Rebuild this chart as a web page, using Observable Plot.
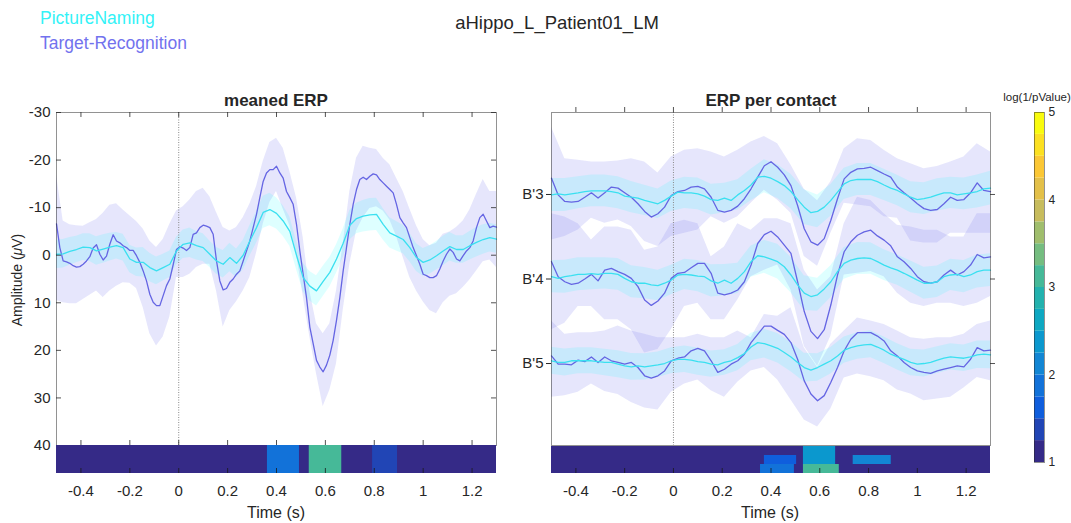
<!DOCTYPE html>
<html><head><meta charset="utf-8">
<script src="https://cdn.jsdelivr.net/npm/d3@7"></script>
<script src="https://cdn.jsdelivr.net/npm/@observablehq/plot@0.6"></script>
<style>
body{margin:0;background:#fff;}
#root{position:relative;width:1071px;height:523px;overflow:hidden;background:#fff;font-family:"Liberation Sans",Arial,Helvetica,sans-serif;color:#262626;}
.abs{position:absolute;}
.txt{position:absolute;white-space:nowrap;line-height:1;}
</style></head><body><div id="root"></div>
<script>
// ---------------- DATA ----------------
const timeDomain = [-0.5, 1.3];
const timeTicks = [-0.4, -0.2, 0, 0.2, 0.4, 0.6, 0.8, 1, 1.2];
const ampTicks = [-30, -20, -10, 0, 10, 20, 30, 40];
const seriesNames = ["PictureNaming", "Target-Recognition"];

// meaned ERP, Target-Recognition mean (133 samples over -0.5..1.3 s)
const trAmp = [-6.6,-1.6,1.2,1.4,1.7,2.2,2.5,2.4,1.9,1.2,0.3,-1.5,-2.2,-0.2,1.0,0.2,-2.3,-4.3,-3.0,-2.6,
-2.0,-1.6,-1.0,-1.0,0.1,1.5,3.3,5.4,8.2,9.9,10.6,10.6,8.5,6.4,5.0,2.0,-1.2,-1.8,-1.5,-1.0,
-1.6,-4.4,-4.7,-5.8,-6.3,-6.1,-5.8,-4.4,1.2,5.4,7.3,7.0,5.7,5.0,4.0,3.3,1.2,-0.9,-3.0,-5.8,
-8.6,-12.1,-15.5,-17.3,-18.0,-18.0,-18.7,-17.3,-16.2,-13.4,-12.1,-10.7,-6.5,-0.9,4.0,8.9,15.1,18.6,22.1,23.5,
24.5,23.1,21.0,17.9,13.7,8.9,3.3,-1.6,-6.5,-10.7,-13.8,-15.9,-16.4,-15.9,-16.6,-17.1,-16.9,-15.9,-15.2,-14.5,
-13.8,-13.1,-10.7,-7.9,-6.8,-5.8,-3.7,-1.6,0.1,1.9,4.0,4.3,4.7,4.7,4.3,2.9,1.2,-0.2,-1.3,-0.6,
0.8,1.2,0.1,-0.9,-1.6,-3.0,-5.8,-7.9,-8.6,-7.2,-5.8,-6.1,-5.9];
// Target-Recognition band edges (67 samples)
const trHi = [-16.9,-7.2,-6.4,-6.2,-6.1,-6.8,-7.5,-8.8,-10.5,-10.8,
-9.5,-8.3,-7.1,-5.5,-3.0,-1.6,-3.3,-6.5,-9.3,-10.2,
-11.6,-13.4,-14.1,-12.3,-9.0,-5.8,-5.1,-5.8,-7.9,-10.7,
-14.4,-19.7,-23.7,-24.6,-22.5,-17.6,-12.1,-3.7,7.5,14.4,
16.5,14.4,7.5,-2.3,-13.4,-20.4,-22.9,-22.5,-22.2,-20.4,
-19.0,-16.2,-13.4,-9.7,-6.2,-3.3,-2.0,-2.5,-4.4,-4.9,
-5.8,-7.2,-9.5,-12.8,-15.9,-13.4,-13.4];
const trLo = [9.5,10.0,10.2,10.2,9.3,8.4,7.5,8.9,7.5,6.5,
5.8,5.9,7.0,11.0,16.5,19.1,17.2,13.0,4.7,4.7,
4.0,2.6,1.9,1.9,7.5,15.1,11.6,9.8,7.5,4.7,
-0.4,-6.5,-11.1,-13.4,-9.7,-6.2,-0.2,8.5,17.2,24.9,
31.8,28.4,22.8,11.6,1.9,-5.1,-7.9,-9.8,-10.2,-9.3,
-7.4,-4.0,0.5,4.7,7.5,9.8,11.6,12.3,10.0,8.6,
8.1,6.8,5.2,3.3,1.4,1.0,2.6];
// PictureNaming mean and s.e.m. (67 samples)
const pnAmp = [-0.2,-0.3,-0.8,-1.2,-1.7,-1.6,-0.9,-1.3,-1.7,-2.0,
-1.6,0.8,1.5,1.5,2.6,3.3,2.6,1.9,-0.9,-2.3,
-2.6,-2.0,-1.6,-0.2,1.2,1.9,0.5,1.7,0,-3.0,
-5.8,-9.0,-9.6,-8.8,-7.2,-5.0,0,4.7,6.5,7.5,
5.5,3.6,0.8,-2.5,-6.3,-7.7,-8.2,-8.5,-8.6,-6.5,
-4.7,-4.0,-3.3,-1.6,0.5,1.5,1.0,0.1,-0.9,-1.8,
-1.2,-1.2,-2.0,-2.7,-3.3,-3.7,-3.4];
const pnSem = [3.0,3.0,2.9,2.8,2.8,2.9,3.0,3.0,2.9,2.8,
2.8,2.9,3.0,3.1,3.0,2.9,2.8,2.8,2.9,3.0,
3.1,3.0,2.9,2.8,2.8,2.9,3.0,3.0,3.1,3.2,
3.3,3.4,3.4,3.3,3.2,3.1,3.0,3.0,3.1,3.2,
3.2,3.1,3.0,3.0,3.1,3.2,3.3,3.4,3.4,3.3,
3.2,3.1,3.0,3.0,2.9,2.9,3.0,3.0,3.1,3.0,
2.9,2.9,3.0,3.1,3.1,3.0,3.0];

// ERP per contact
const contacts = ["B'3", "B'4", "B'5"];
const contactOffsets = [40, 80, 120];
const contactDomain = [1.2, 158.8];
// means (67 samples each)
const trContact = [
 [-7.7,0.2,3.3,3.6,3.3,1.3,-0.8,1.7,-0.8,-3.5,-3.0,-0.8,1.3,4.4,8.0,10.7,9.1,6.0,0.5,-1.4,
  -1.9,-3.5,-3.8,-2.7,1.3,7.5,8.3,7.5,5.5,2.0,-2.7,-8.2,-13.6,-15.5,-12.9,-9.3,-4.2,5.2,16.2,22.4,
  24.0,20.9,12.2,2.0,-7.4,-10.5,-12.1,-12.4,-12.9,-11.3,-9.7,-8.2,-3.5,-0.8,1.7,4.4,6.7,7.5,7.1,4.4,
  1.3,2.8,2.4,-0.8,-5.5,-1.9,-1.4],
 [-8.2,-1.1,1.3,2.5,2.0,0,-2.2,0.9,-4.2,-5.0,-3.5,-2.2,-0.3,3.6,9.9,12.5,10.4,6.7,-0.3,-2.7,
  -3.1,-5.3,-7.4,-7.4,-2.7,6.7,7.5,6.7,5.2,1.3,-6.6,-16.8,-21.0,-22.6,-19.9,-16.0,-12.1,1.3,15.4,24.8,
  28.2,24.0,12.2,-1.9,-12.9,-17.6,-20.7,-22.3,-23.1,-20.4,-18.4,-15.7,-10.5,-8.2,-5.0,-1.1,1.3,2.0,1.3,-1.9,
  -4.2,-1.9,-3.5,-6.6,-11.6,-10.0,-10.5],
 [-3.6,0.3,0.3,0.6,-1.6,-0.9,-3.1,-0.5,-3.1,-1.3,-0.5,0.3,-0.5,1.9,5.8,6.9,5.8,3.5,-1.3,-2.5,
  -3.1,-6.0,-7.2,-6.0,-1.3,4.2,2.7,0.3,-1.3,-4.4,-9.9,-13.8,-17.7,-17.7,-15.7,-13.8,-9.9,-2.0,8.2,14.4,
  17.6,15.2,8.9,1.9,-6.0,-11.5,-14.6,-14.6,-14.6,-13.0,-10.7,-6.0,-3.6,-0.5,1.9,3.5,4.2,4.7,3.5,2.7,
  1.9,1.1,1.6,-2.0,-7.5,-6.0,-6.3]
];
const pnContact = [
 [0.2,-0.3,0.2,-0.3,-0.8,-1.4,-1.7,-1.7,-1.7,-1.4,-0.8,0.8,1.3,1.7,2.8,3.6,4.4,2.8,0.8,-1.1,
  -0.8,-0.8,-0.3,0.8,2.4,2.8,1.7,2.8,0.2,-1.9,-4.5,-8.2,-8.6,-7.7,-6.1,-4.2,-1.4,2.4,6.0,8.6,
  8.0,6.0,2.8,-1.1,-5.0,-6.6,-7.1,-7.1,-7.1,-6.1,-4.5,-3.0,-1.9,-0.3,1.3,2.4,2.0,1.3,0.2,-0.8,
  -0.8,0.2,-0.3,-0.8,-1.4,-2.7,-3.0],
 [-1.1,-0.3,-1.1,-1.6,-2.2,-2.2,-2.5,-2.2,-2.7,-2.7,-2.2,-0.3,1.3,2.0,2.0,2.8,3.1,2.0,0.5,-1.9,
  -2.2,-1.9,-1.4,-1.1,0.9,2.0,0.5,2.0,-0.3,-3.5,-8.2,-11.0,-10.5,-9.4,-8.2,-5.8,-1.9,2.8,6.7,8.3,
  7.5,4.7,1.3,-3.5,-7.4,-8.9,-9.7,-10.0,-9.7,-8.2,-6.6,-5.3,-4.2,-2.7,-1.1,0.5,2.0,2.0,1.3,-1.1,
  -1.9,-2.2,-1.1,-1.9,-3.5,-4.2,-4.2],
 [-1.3,-0.5,-0.5,-1.3,-1.3,-1.3,-1.3,-0.9,-0.5,-0.5,0.3,1.1,1.6,1.1,1.6,1.1,0.6,0,-1.3,-2.0,
  -2.0,-1.6,-0.9,-0.5,0.3,0.6,-0.5,-1.3,-2.8,-4.7,-7.8,-9.9,-9.4,-8.3,-7.2,-5.2,-3.1,-0.5,1.9,3.1,
  1.9,0.3,-1.3,-3.6,-6.3,-7.5,-8.3,-8.8,-9.1,-7.8,-6.3,-4.4,-3.1,-2.0,-0.5,0.3,0,-0.5,-1.6,-2.5,
  -3.1,-2.8,-2.5,-3.1,-4.1,-4.4,-4.1]
];
// Target-Recognition band edges per contact (34 samples)
const trContactHi = [
 [-31.8,-16.9,-16.2,-15.4,-15.4,-15.8,-16.9,-15.4,-10.2,-17.7,-20.9,-21.6,-20.1,-17.7,-20.9,-24.8,-27.5,-24.0,-14.0,-2.5,3.0,-6.0,-21.6,-26.4,-25.6,-20.9,-16.9,-14.6,-12.2,-13.3,-15.4,-17.7,-24.0,-20.1],
 [-30.9,-29.3,-26.2,-18.4,-24.6,-24.6,-23.1,-13.6,-15.2,-26.2,-27.8,-26.2,-10.5,-15.2,-26.2,-23.1,-28.5,-28.5,-26.2,-4.2,5.2,-1.1,-26.2,-38.7,-37.2,-30.9,-25.4,-24.6,-23.1,-23.1,-19.9,-19.9,-30.9,-30.9],
 [-20.1,-13.8,-14.6,-14.6,-15.4,-17.7,-15.4,-13.8,-12.2,-12.2,-12.2,-13.8,-12.2,-12.2,-15.4,-12.2,-23.2,-22.4,-26.4,-7.5,1.9,-9.1,-15.4,-21.6,-20.1,-18.5,-15.4,-12.2,-11.5,-12.2,-12.2,-13.8,-18.5,-20.1]
];
const trContactLo = [
 [21.5,19.9,16.8,11.3,13.6,12.1,15.2,22.3,24.6,19.9,18.4,16.8,10.5,13.6,10.5,4.2,-2.0,2.7,8.9,29.3,34.0,18.4,4.2,5.0,5.8,10.5,11.3,22.0,23.0,23.0,18.4,18.4,18.4,18.4],
 [24.0,20.9,13.0,13.0,19.3,19.3,24.0,35.0,33.4,24.0,13.0,11.5,19.3,19.3,9.9,-1.1,-4.2,-6.6,5.2,31.8,41.3,27.1,-1.9,-2.7,-3.5,-1.1,6.7,11.5,13.0,11.5,11.5,13.0,11.5,8.3],
 [16.0,15.2,13.6,9.7,13.2,14.7,18.4,21.0,22.0,13.6,9.7,7.8,12.9,16.0,8.9,3.5,1.9,7.8,17.3,26.7,30.1,21.5,6.9,5.0,6.3,8.2,12.5,14.4,17.6,16.8,16.0,11.6,6.6,8.2]
];
// PictureNaming s.e.m. per contact (34 samples)
const pnContactSem = [
 [7.8,7.8,7.6,7.5,7.5,7.6,7.4,7.2,7.0,7.2,7.4,7.5,7.3,7.0,7.2,7.5,7.8,8.0,8.2,8.2,7.8,7.5,7.4,7.6,7.6,7.4,7.2,7.3,7.5,7.6,7.4,7.5,7.8,8.0],
 [7.6,7.8,7.8,7.6,7.4,7.5,7.6,7.4,7.2,7.0,7.2,7.4,7.6,7.4,7.2,7.4,7.8,8.2,8.4,8.2,7.8,7.6,7.5,7.6,7.4,7.3,7.2,7.4,7.6,7.5,7.4,7.6,7.8,7.8],
 [6.4,6.4,6.2,6.2,6.3,6.4,6.3,6.2,6.0,6.2,6.3,6.4,6.2,6.0,6.2,6.5,6.8,7.0,7.0,6.8,6.5,6.3,6.2,6.3,6.4,6.3,6.2,6.3,6.4,6.3,6.2,6.3,6.5,6.6]
];

// significance strips: log(1/pValue)
const pBase = 1;
const meanSig = [
 {start: 0.363, end: 0.494, p: 1.85},
 {start: 0.534, end: 0.667, p: 3.1},
 {start: 0.793, end: 0.895, p: 1.4}
];
const contactSig = [
 {row: "B'3", start: 0.533, end: 0.665, p: 2.4},
 {row: "B'4", start: 0.373, end: 0.505, p: 1.6},
 {row: "B'4", start: 0.533, end: 0.665, p: 2.4},
 {row: "B'4", start: 0.737, end: 0.893, p: 2.1},
 {row: "B'5", start: 0.357, end: 0.496, p: 1.9},
 {row: "B'5", start: 0.533, end: 0.680, p: 3.1}
];
const colorbarDomain = [1, 5];
const colorbarTicks = [1, 2, 3, 4, 5];
const colorbarSteps = 16;
const parulaStops = ["#352a87","#0f5cdd","#1481d6","#06a4ca","#2eb7a4","#87bf77","#d1bb59","#fec832","#f9fb0e"];

// ---------------- RENDER ----------------
const FONT = '"Liberation Sans", Arial, Helvetica, sans-serif';
const INK = "#262626";
const TR_LINE = "#6565e3", PN_LINE = "#3ae0f0";
const TR_FILL = "#8080f0", PN_FILL = "#00ffff";
const TR_ALPHA = 0.2, PN_ALPHA = 0.13;
const root = document.getElementById("root");

const grid = n => d3.range(n).map(i => timeDomain[0] + i * (timeDomain[1] - timeDomain[0]) / (n - 1));
const tFine = grid(trAmp.length), tMid = grid(pnAmp.length), tCoarse = grid(trContactHi[0].length);
const fmtT = d => String(+d.toFixed(1));

const parula16 = d3.quantize(d3.piecewise(d3.interpolateRgb, parulaStops), colorbarSteps);
const stepW = (colorbarDomain[1] - colorbarDomain[0]) / colorbarSteps;
const thresholds = d3.range(1, colorbarSteps).map(i => colorbarDomain[0] + i * stepW);
const colorOpt = {type: "threshold", domain: thresholds, range: parula16};

function place(el, left, top) {
  const d = document.createElement("div");
  d.className = "abs"; d.style.left = left + "px"; d.style.top = top + "px";
  d.appendChild(el); root.appendChild(d);
}
function label(str, x, y, o = {}) {
  const d = document.createElement("div");
  d.className = "txt";
  if (o.html) d.innerHTML = str; else d.textContent = str;
  d.style.left = x + "px"; d.style.top = y + "px";
  d.style.fontSize = (o.size || 15) + "px";
  d.style.fontWeight = o.weight || "normal";
  d.style.color = o.color || INK;
  const ax = o.anchor === "start" ? "0" : "-50%";
  d.style.transform = `translate(${ax},-50%)` + (o.rotate ? ` rotate(${o.rotate}deg)` : "");
  root.appendChild(d);
}
const baseStyle = {fontFamily: FONT, fontSize: "15px", color: INK, background: "transparent", overflow: "visible"};

// ---- left panel (meaned ERP)
{
  const W = 520, H = 345, mL = 56, mR = 24, mT = 12;
  const iW = W - mL - mR, iH = H - mT;
  const trLine = tFine.map((t, i) => ({t, v: trAmp[i]}));
  const trBand = tMid.map((t, i) => ({t, a: trLo[i], b: trHi[i]}));
  const pnLine = tMid.map((t, i) => ({t, v: pnAmp[i]}));
  const pnBand = tMid.map((t, i) => ({t, a: pnAmp[i] - pnSem[i], b: pnAmp[i] + pnSem[i]}));
  const main = Plot.plot({
    width: W, height: H, marginLeft: mL, marginRight: mR, marginTop: mT, marginBottom: 0,
    style: baseStyle,
    x: {domain: timeDomain, axis: null},
    y: {domain: [ampTicks[0], ampTicks[ampTicks.length - 1]], reverse: true, ticks: ampTicks, tickSize: 0, tickPadding: 6, tickFormat: d => String(d), label: null},
    marks: [
      Plot.areaY(trBand, {x: "t", y1: "a", y2: "b", fill: TR_FILL, fillOpacity: TR_ALPHA}),
      Plot.areaY(pnBand, {x: "t", y1: "a", y2: "b", fill: PN_FILL, fillOpacity: PN_ALPHA}),
      Plot.ruleX([0], {stroke: "#888", strokeDasharray: "1,1.5", strokeWidth: 1}),
      Plot.line(trLine, {x: "t", y: "v", stroke: TR_LINE, strokeWidth: 1.3}),
      Plot.line(pnLine, {x: "t", y: "v", stroke: PN_LINE, strokeWidth: 1.3}),
      Plot.tickX(timeTicks, {x: d => d, insetBottom: iH - 5, stroke: INK, strokeWidth: 0.8}),
      Plot.tickX(timeTicks, {x: d => d, insetTop: iH - 5, stroke: INK, strokeWidth: 0.8}),
      Plot.tickY(ampTicks, {y: d => d, insetRight: iW - 5, stroke: INK, strokeWidth: 0.8}),
      Plot.tickY(ampTicks, {y: d => d, insetLeft: iW - 5, stroke: INK, strokeWidth: 0.8}),
      Plot.frame({stroke: INK, strokeOpacity: 0.5})
    ]
  });
  place(main, 0, 100);
  const cells = [{row: "all", start: timeDomain[0], end: timeDomain[1], p: pBase}, ...meanSig.map(d => ({row: "all", ...d}))];
  const strip = Plot.plot({
    width: W, height: 68, marginLeft: mL, marginRight: mR, marginTop: 0, marginBottom: 40,
    style: baseStyle,
    x: {domain: timeDomain, ticks: timeTicks, tickSize: 0, tickPadding: 12, tickFormat: fmtT, label: null},
    y: {domain: ["all"], axis: null, padding: 0},
    color: colorOpt,
    marks: [
      Plot.barX(cells, {x1: "start", x2: "end", y: "row", fill: "p"}),
      Plot.tickX(timeTicks, {x: d => d, insetTop: 23, stroke: "#1a1a1a", strokeWidth: 0.8})
    ]
  });
  place(strip, 0, 445);
}

// ---- right panel (ERP per contact)
{
  const W = 490, H = 345, mL = 31, mR = 20, mT = 12;
  const iW = W - mL - mR, iH = H - mT;
  const trBands = [], pnBands = [], lines = [];
  contacts.forEach((c, k) => {
    const off = contactOffsets[k];
    tCoarse.forEach((t, m) => {
      trBands.push({c, t, a: off + trContactLo[k][m], b: off + trContactHi[k][m]});
      const mu = pnContact[k][2 * m];
      pnBands.push({c, t, a: off + mu - pnContactSem[k][m], b: off + mu + pnContactSem[k][m]});
    });
    tMid.forEach((t, j) => {
      lines.push({c, s: "TR", t, v: off + trContact[k][j]});
      lines.push({c, s: "PN", t, v: off + pnContact[k][j]});
    });
  });
  const main = Plot.plot({
    width: W, height: H, marginLeft: mL, marginRight: mR, marginTop: mT, marginBottom: 0,
    style: baseStyle,
    x: {domain: timeDomain, axis: null},
    y: {domain: contactDomain, reverse: true, ticks: contactOffsets, tickSize: 5, tickPadding: 3,
        tickFormat: d => contacts[contactOffsets.indexOf(d)], label: null},
    marks: [
      Plot.areaY(trBands, {x: "t", y1: "a", y2: "b", z: "c", fill: TR_FILL, fillOpacity: TR_ALPHA}),
      Plot.areaY(pnBands, {x: "t", y1: "a", y2: "b", z: "c", fill: PN_FILL, fillOpacity: PN_ALPHA}),
      Plot.ruleX([0], {stroke: "#888", strokeDasharray: "1,1.5", strokeWidth: 1}),
      Plot.line(lines.filter(d => d.s === "TR"), {x: "t", y: "v", z: "c", stroke: TR_LINE, strokeWidth: 1.3}),
      Plot.line(lines.filter(d => d.s === "PN"), {x: "t", y: "v", z: "c", stroke: PN_LINE, strokeWidth: 1.3}),
      Plot.tickX(timeTicks, {x: d => d, insetTop: -5, insetBottom: iH, stroke: INK, strokeWidth: 0.8}),
      Plot.tickY(contactOffsets, {y: d => d, insetLeft: iW, insetRight: -5, stroke: INK, strokeWidth: 0.8}),
      Plot.frame({stroke: INK, strokeOpacity: 0.5})
    ]
  });
  place(main, 520, 100);
  const cells = [...contacts.map(c => ({row: c, start: timeDomain[0], end: timeDomain[1], p: pBase})), ...contactSig];
  const strip = Plot.plot({
    width: W, height: 68, marginLeft: mL, marginRight: mR, marginTop: 0, marginBottom: 40,
    style: baseStyle,
    x: {domain: timeDomain, ticks: timeTicks, tickSize: 0, tickPadding: 12, tickFormat: fmtT, label: null},
    y: {domain: contacts, axis: null, padding: 0},
    color: colorOpt,
    marks: [
      Plot.barX(cells, {x1: "start", x2: "end", y: "row", fill: "p"}),
      Plot.tickX(timeTicks, {x: d => d, insetTop: 23, stroke: "#1a1a1a", strokeWidth: 0.8})
    ]
  });
  place(strip, 520, 445);
}

// ---- colorbar
{
  const bands = d3.range(colorbarSteps).map(k => ({lo: colorbarDomain[0] + k * stepW, hi: colorbarDomain[0] + (k + 1) * stepW, mid: colorbarDomain[0] + (k + 0.5) * stepW}));
  const cb = Plot.plot({
    width: 47, height: 370, marginLeft: 10, marginRight: 27, marginTop: 10, marginBottom: 10,
    style: {...baseStyle, fontSize: "12px"},
    x: {axis: null},
    y: {domain: colorbarDomain, axis: "right", ticks: colorbarTicks, tickSize: 0, tickPadding: 4, tickFormat: d => String(d), label: null},
    color: colorOpt,
    marks: [
      Plot.barY(bands, {y1: "lo", y2: "hi", fill: "mid"}),
      Plot.frame({stroke: INK, strokeOpacity: 0.5})
    ]
  });
  place(cb, 1024, 102);
}

// ---- texts
label(seriesNames[0], 40, 19, {size: 17.5, color: "#33f2f7", anchor: "start"});
label(seriesNames[1], 40, 44, {size: 17.5, color: "#7272ee", anchor: "start"});
label("aHippo_L_Patient01_LM", 557, 23, {size: 18.5});
label("meaned ERP", 276, 100, {size: 17, weight: "bold"});
label("ERP per contact", 771, 100, {size: 17, weight: "bold"});
label("Time (s)", 276, 513, {size: 16});
label("Time (s)", 770, 513, {size: 16});
label("Amplitude (<i>\u03BC</i>V)", 17, 280, {size: 14, rotate: -90, html: true});
label("log(1/pValue)", 1037, 98, {size: 11.5});
</script></body></html>
